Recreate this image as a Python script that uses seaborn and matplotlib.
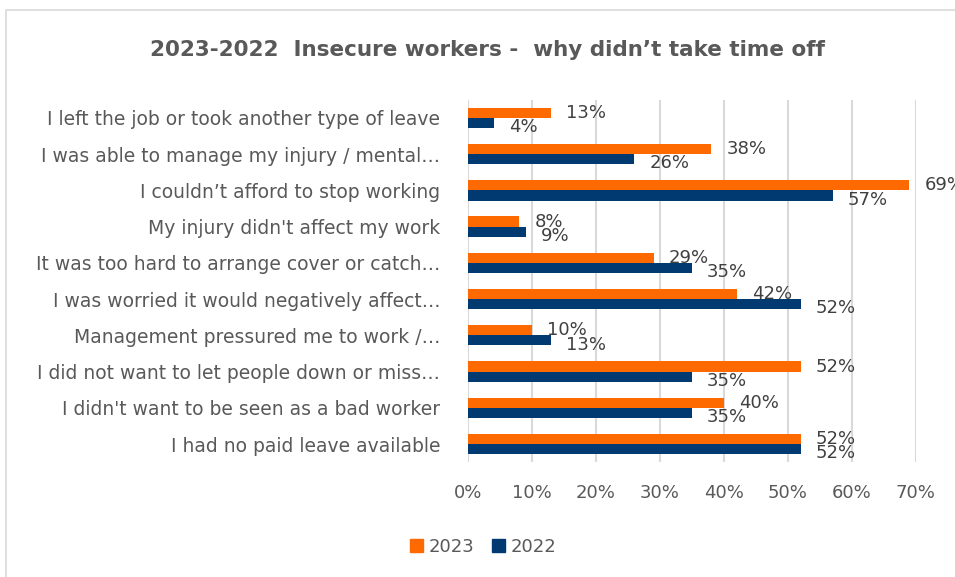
import pandas as pd
import matplotlib.pyplot as plt
import matplotlib.patches as mpatches
import seaborn as sns

categorias = [
    "I left the job or took another type of leave",
    "I was able to manage my injury / mental…",
    "I couldn’t afford to stop working",
    "My injury didn't affect my work",
    "It was too hard to arrange cover or catch…",
    "I was worried it would negatively affect…",
    "Management pressured me to work /…",
    "I did not want to let people down or miss…",
    "I didn't want to be seen as a bad worker",
    "I had no paid leave available",
]
anos = ["2023", "2022"]
valores_2023 = [0.13, 0.38, 0.69, 0.08, 0.29, 0.42, 0.10, 0.52, 0.40, 0.52]
valores_2022 = [0.04, 0.26, 0.57, 0.09, 0.35, 0.52, 0.13, 0.35, 0.35, 0.52]
cores = {"2023": "#FF6A00", "2022": "#003A70"}
ticks_x = [0, 0.1, 0.2, 0.3, 0.4, 0.5, 0.6, 0.7]

df = pd.DataFrame({
    "Motivo": categorias * 2,
    "Ano": ["2023"] * len(categorias) + ["2022"] * len(categorias),
    "Valor": valores_2023 + valores_2022,
})

sns.set_style("white")
plt.rcParams['font.family'] = ['DejaVu Sans']
cinza = "#595959"

fig = plt.figure(figsize=(9.55, 5.77), dpi=100)
ax = fig.add_axes([0.490, 0.199, 0.469, 0.628])

sns.barplot(data=df, x="Valor", y="Motivo", hue="Ano", hue_order=anos,
            order=categorias, palette=cores, width=0.56, orient="h",
            saturation=1, linewidth=0, ax=ax, legend=True)

# rótulos de dados
for cont, dy in zip(ax.containers, [0, -3]):
    for barra in cont:
        v = barra.get_width()
        ax.annotate(f"{v * 100:.0f}%",
                    (barra.get_x() + v, barra.get_y() + barra.get_height() / 2),
                    xytext=(11, dy), textcoords="offset points",
                    ha="left", va="center", fontsize=13, color="#404040",
                    annotation_clip=False)

ax.set_xlim(0, 0.7)
ax.set_xticks(ticks_x)
ax.set_xticklabels([f"{t * 100:.0f}%" for t in ticks_x])
ax.xaxis.grid(True, color="#D9D9D9", linewidth=1.5)
ax.set_axisbelow(True)
for s in ax.spines.values():
    s.set_visible(False)
ax.set_xlabel("")
ax.set_ylabel("")
ax.tick_params(axis="x", length=0, pad=16, labelsize=13, labelcolor=cinza)
ax.tick_params(axis="y", length=0, pad=20, labelsize=13.5, labelcolor=cinza)

ax.get_legend().remove()
handles = [mpatches.Patch(color=cores[a], label=a) for a in anos]
fig.legend(handles=handles, loc="center", bbox_to_anchor=(0.506, 0.052),
           ncol=2, frameon=False, fontsize=13, labelcolor=cinza,
           handlelength=0.7, handleheight=0.7, handletextpad=0.3,
           columnspacing=1.0)

fig.text(0.51, 0.913, "2023-2022  Insecure workers -  why didn’t take time off",
         ha="center", va="center", fontsize=15.5, fontweight="bold", color=cinza)

# moldura do gráfico
fig.patches.append(mpatches.Rectangle((0.006, -0.01), 1.1, 0.993,
                                      transform=fig.transFigure, fill=False,
                                      edgecolor="#D9D9D9", linewidth=1.2))

fig.savefig("out.png", dpi=100)
